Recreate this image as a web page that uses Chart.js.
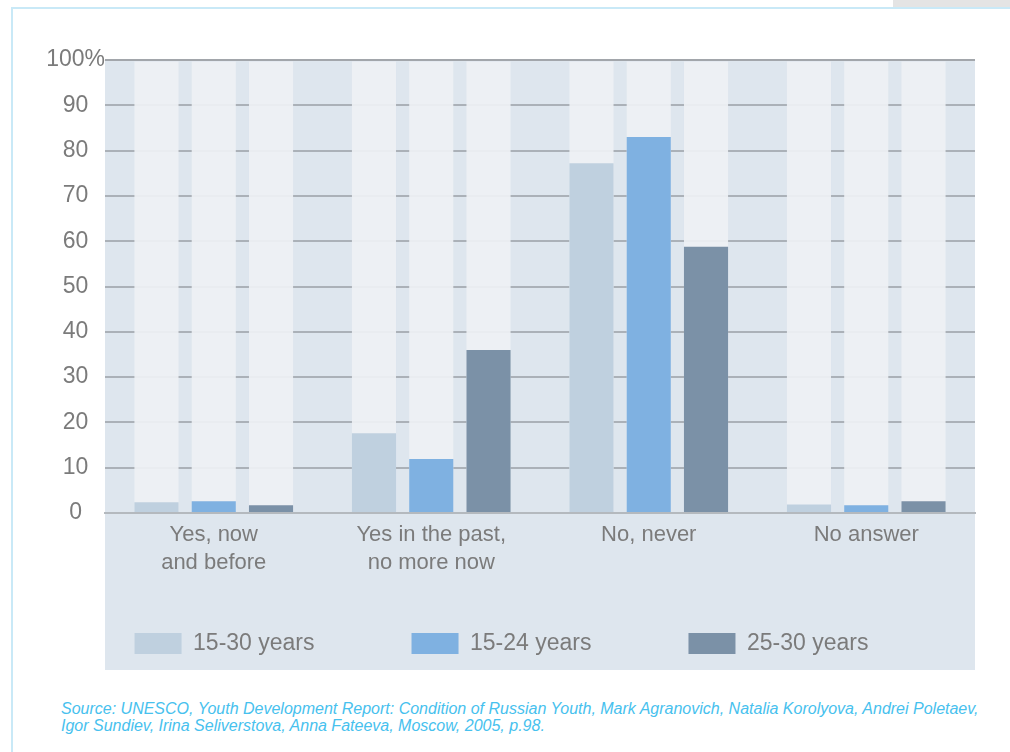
<!DOCTYPE html>
<html>
<head>
<meta charset="utf-8">
<script src="https://cdn.jsdelivr.net/npm/chart.js@4.4.1/dist/chart.umd.min.js"></script>
<style>
body{margin:0;background:#fff;width:1010px;height:752px;overflow:hidden;position:relative;font-family:"Liberation Sans",Arial,sans-serif;}
#frame{position:absolute;left:11px;top:7px;width:1010px;height:760px;border-left:2px solid #c9e9f7;border-top:2px solid #c9e9f7;}
#tab{position:absolute;left:893px;top:0;width:117px;height:7px;background:#e4e4e4;}
#wrap{position:absolute;left:0;top:0;width:1010px;height:680px;}
#source{position:absolute;left:61px;top:700px;width:945px;font-style:italic;font-size:16px;line-height:17px;color:#47c1ee;z-index:2;}
</style>
</head>
<body>
<div id="tab"></div>
<div id="frame"></div>
<div id="wrap"><canvas id="chart" width="1010" height="680"></canvas></div>
<div id="source">Source: UNESCO, Youth Development Report: Condition of Russian Youth, Mark Agranovich, Natalia Korolyova, Andrei Poletaev,<br>Igor Sundiev, Irina Seliverstova, Anna Fateeva, Moscow, 2005, p.98.</div>
<script>
// ----------------------------
// data
// ----------------------------

const categories = [
    ["Yes, now", "and before"],
    ["Yes in the past,", "no more now"],
    "No, never",
    "No answer"
];

const seriesNames = ["15-30 years", "15-24 years", "25-30 years"];

const values1530 = [2.4, 17.6, 77.2, 1.9];
const values1524 = [2.6, 11.9, 83, 1.7];
const values2530 = [1.7, 36, 58.8, 2.6];

const yTicks = [0, 10, 20, 30, 40, 50, 60, 70, 80, 90, 100];

const barColors = ["#bfd0df", "#7fb1e1", "#7b91a7"];

const textGray = "#7b7b7b";
const legendPad = 97;

// ----------------------------
// panel background + pale bar slots
// ----------------------------

const panel = {
    id: "panel",
    beforeDraw(chart) {
        const {ctx, chartArea: a} = chart;
        const bottom = chart.legend.top + legendPad + 38;
        ctx.save();
        ctx.fillStyle = "#dee6ee";
        ctx.fillRect(a.left, a.top, a.right - a.left, bottom - a.top);
        ctx.restore();
    },
    beforeDatasetsDraw(chart) {
        const {ctx, chartArea: a} = chart;
        ctx.save();
        ctx.fillStyle = "rgba(238,241,244,0.92)";
        chart.data.datasets.forEach((d, i) => {
            chart.getDatasetMeta(i).data.forEach(bar => {
                ctx.fillRect(bar.x - bar.width / 2, a.top + 1.5, bar.width, a.bottom - a.top - 3);
            });
        });
        ctx.restore();
    }
};

// ----------------------------
// chart
// ----------------------------

new Chart(document.getElementById("chart"), {
    type: "bar",
    data: {
        labels: categories,
        datasets: [
            {label: seriesNames[0], data: values1530, backgroundColor: barColors[0]},
            {label: seriesNames[1], data: values1524, backgroundColor: barColors[1]},
            {label: seriesNames[2], data: values2530, backgroundColor: barColors[2]}
        ]
    },
    options: {
        responsive: false,
        animation: false,
        categoryPercentage: 0.79,
        barPercentage: 0.77,
        layout: {padding: {top: 60, right: 35, left: 28, bottom: 15}},
        plugins: {
            tooltip: {enabled: false},
            legend: {
                position: "bottom",
                labels: {
                    boxWidth: 47,
                    boxHeight: 21,
                    padding: legendPad,
                    color: textGray,
                    font: {family: "Liberation Sans", size: 23}
                }
            }
        },
        scales: {
            x: {
                grid: {display: false},
                border: {color: "#b4b9be", width: 2},
                ticks: {
                    color: textGray,
                    // mirrored so the labels are not clipped to the thin axis box
                    mirror: true,
                    padding: -36,
                    maxRotation: 0,
                    autoSkip: false,
                    font: {family: "Liberation Sans", size: 22, lineHeight: 1.25}
                },
                afterFit: s => { s.height = 22; }
            },
            y: {
                min: 0,
                max: 100,
                afterBuildTicks: s => { s.ticks = yTicks.map(v => ({value: v})); },
                border: {display: false},
                grid: {
                    drawTicks: false,
                    lineWidth: 2,
                    color: c => c.tick && c.tick.value === 100 ? "#a2a6ab" : "#abb1b8"
                },
                ticks: {
                    color: textGray,
                    padding: 0,
                    crossAlign: "center",
                    font: {family: "Liberation Sans", size: 23},
                    callback: v => v === 100 ? "100%" : v
                },
                afterFit: s => { s.width = 77; }
            }
        }
    },
    plugins: [panel]
});
</script>
</body>
</html>
